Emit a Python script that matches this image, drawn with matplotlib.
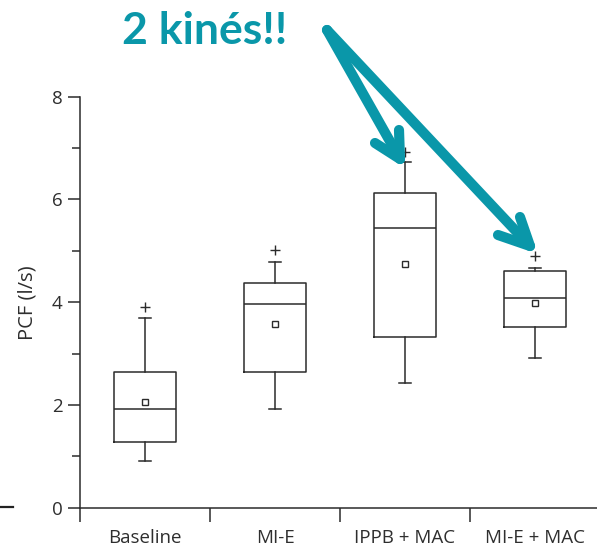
import matplotlib
matplotlib.use("Agg")
import matplotlib.pyplot as plt
from matplotlib.lines import Line2D
from matplotlib.ticker import FixedLocator

# ---- data ----
categories = ['Baseline', 'MI-E', 'IPPB + MAC', 'MI-E + MAC']
q1 = [1.28, 2.65, 3.32, 3.52]
medians = [1.93, 3.96, 5.44, 4.09]
q3 = [2.65, 4.38, 6.13, 4.61]
whislo = [0.90, 1.93, 2.42, 2.91]
whishi = [3.70, 4.79, 6.73, 4.66]
means = [2.06, 3.58, 4.74, 3.99]
outliers = [[3.91], [5.01], [6.93], [4.90]]

ylabel = 'PCF (l/s)'
annotation = '2 kinés!!'
yticks_major = [0, 2, 4, 6, 8]
yticks_minor = [1, 3, 5, 7]

W, H = 597, 548
DPI = 100
TEAL = '#0A97A9'
INK = '#2b2b2b'

plt.rcParams['font.family'] = ['Open Sans', 'DejaVu Sans']

fig = plt.figure(figsize=(W / DPI, H / DPI), dpi=DPI)
ax = fig.add_axes([80 / W, (H - 507.7) / H, (W - 80) / W, (507.7 - 96.7) / H])

stats = []
for i, cat in enumerate(categories):
    stats.append(dict(label=cat, q1=q1[i], med=medians[i], q3=q3[i],
                      whislo=whislo[i], whishi=whishi[i], mean=means[i],
                      fliers=outliers[i]))

ax.bxp(stats, positions=range(len(categories)), widths=0.47, capwidths=0.095,
       showmeans=True, showfliers=True, patch_artist=False,
       boxprops=dict(color=INK, linewidth=1.1),
       medianprops=dict(color=INK, linewidth=1.1),
       whiskerprops=dict(color=INK, linewidth=1.1),
       capprops=dict(color=INK, linewidth=1.1),
       meanprops=dict(marker='s', markerfacecolor='white', markeredgecolor=INK,
                      markersize=4, markeredgewidth=1.0),
       flierprops=dict(marker='+', markeredgecolor=INK, markersize=7,
                       markeredgewidth=1.0))

n = len(categories)
ax.set_xlim(-0.5, n - 0.5 - 3 / 130)
ax.set_ylim(0, 8)

for s in ['top', 'right']:
    ax.spines[s].set_visible(False)
for s in ['left', 'bottom']:
    ax.spines[s].set_color(INK)
    ax.spines[s].set_linewidth(1.1)
ax.spines['left'].set_bounds(0, 8)

ax.set_yticks(yticks_major)
ax.yaxis.set_minor_locator(FixedLocator(yticks_minor))
ax.tick_params(axis='y', which='major', length=8.6, width=1.1, color=INK,
               labelsize=13.5, pad=4, labelcolor='#2e2e2e')
ax.tick_params(axis='y', which='minor', length=5.8, width=1.1, color=INK)

ax.set_xticks(range(n))
ax.set_xticklabels(categories)
ax.xaxis.set_minor_locator(FixedLocator([i - 0.5 for i in range(n)]))
ax.tick_params(axis='x', which='major', length=0, labelsize=13.5, pad=15,
               labelcolor='#2e2e2e')
ax.tick_params(axis='x', which='minor', length=10, width=1.1, color=INK)

ax.set_ylabel(ylabel, fontsize=14.5, color='#2e2e2e')
ax.yaxis.set_label_coords(-(80 - 37) / (W - 80), 0.5)

# ---- annotation overlay (pixel coords, top-left origin) ----
def fpt(x, y):
    return x / W, 1 - y / H

fig.text(*fpt(122, 44), annotation, color=TEAL, fontsize=32,
         fontweight='bold', family=['Lato', 'DejaVu Sans'],
         va='baseline', ha='left')

def stroke(pts, lw=7.3):
    xs = [fpt(*p)[0] for p in pts]
    ys = [fpt(*p)[1] for p in pts]
    fig.add_artist(Line2D(xs, ys, transform=fig.transFigure, color=TEAL,
                          linewidth=lw, solid_capstyle='round',
                          solid_joinstyle='round'))

start = (327, 30)
tip1 = (400, 159)
tip2 = (530, 246)
stroke([start, tip1])
stroke([(375, 143), tip1, (399, 130)])
stroke([start, tip2])
stroke([(498, 235), tip2, (520, 217)])

# stray dash at the left edge
fig.add_artist(Line2D([0, 13 / W], [1 - 507 / H, 1 - 507 / H],
                      transform=fig.transFigure, color='#222222', linewidth=1.6))

fig.savefig('out.png', dpi=DPI)
